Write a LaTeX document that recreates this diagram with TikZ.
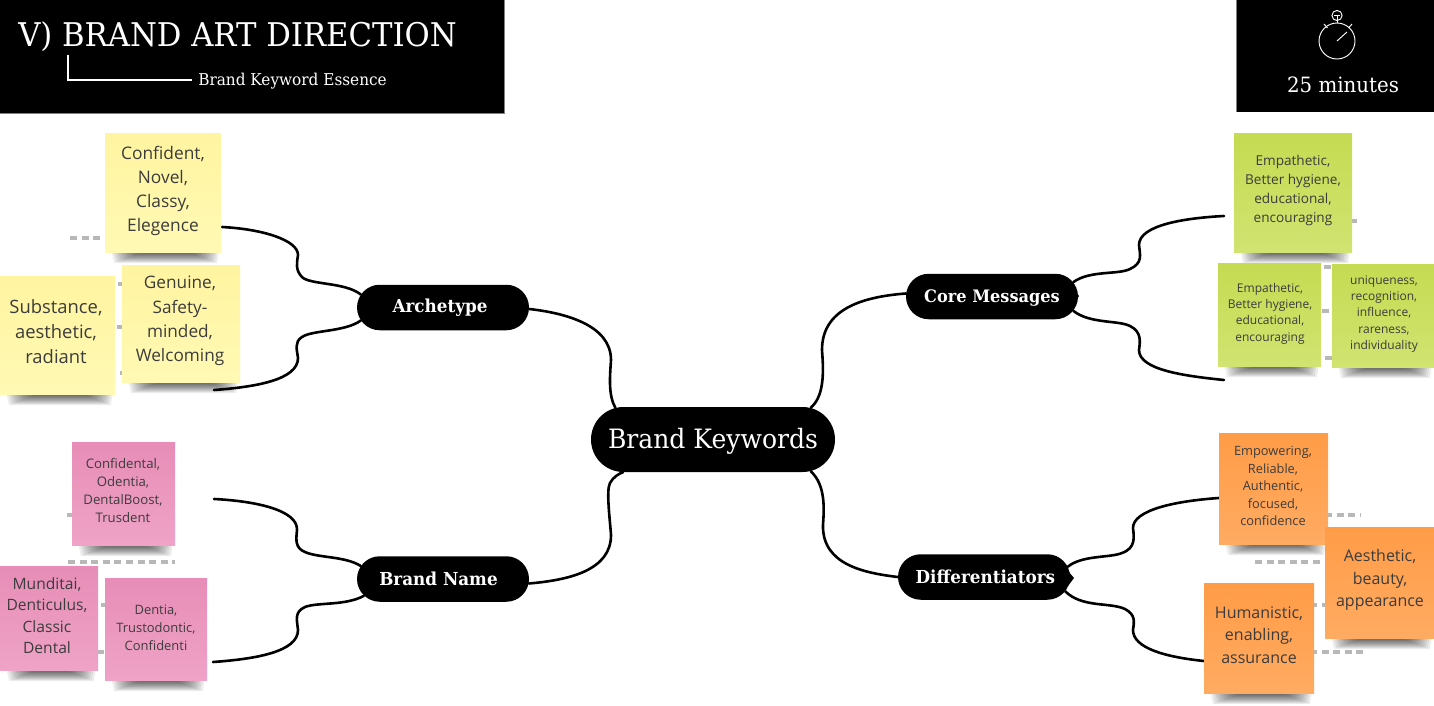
\documentclass[tikz,border=0pt]{standalone}
\usepackage{fontspec}
\usetikzlibrary{shapes.misc,backgrounds}
\setmainfont{DejaVu Serif}
\newfontfamily\hdfont[FakeStretch=0.94]{DejaVu Serif}
\newfontfamily\opensans{Open Sans}
\definecolor{yelT}{HTML}{FFF4A0}\definecolor{yelB}{HTML}{FFF9B4}
\definecolor{pnkT}{HTML}{E78DB7}\definecolor{pnkB}{HTML}{EFA3C6}
\definecolor{grnT}{HTML}{C5DB52}\definecolor{grnB}{HTML}{D1E371}
\definecolor{orgT}{HTML}{FF9C47}\definecolor{orgB}{HTML}{FFAB62}
\definecolor{notetext}{HTML}{3C3C3C}
\definecolor{dashgray}{HTML}{B8B8B8}
\tikzset{
  x=0.75pt,y=-0.75pt,
  hub/.style={rounded rectangle,fill=black,text=white,inner sep=0pt,
    minimum width=172*0.75pt,minimum height=45.5*0.75pt,
    font=\hdfont\bfseries\fontsize{13.4}{16}\selectfont},
  note/.style 2 args={align=center,inner sep=0pt,text=notetext,
    font=\opensans\fontsize{#1}{#2}\selectfont},
  wire/.style={line width=1.95pt,black,line cap=round},
  dots/.style={line width=3.4pt,dashgray,dash pattern=on 5.2pt off 3.5pt},
  white label/.style={text=white,inner sep=0pt}
}
\newcommand{\stick}[5]{%
  \foreach \i in {0,...,11}{%
    \fill[black,opacity=.07]
      ({#1+6+2*\i},{#4-3}) -- ({#3-2-2*\i},{#4-3})
      -- ({#3-4-2.4*\i},{#4+11-0.9*\i}) -- ({#1+9+2.4*\i},{#4+11-0.9*\i}) -- cycle;}
  \shade[top color=#5T,bottom color=#5B] (#1,#2) rectangle (#3,#4);}
\begin{document}
\begin{tikzpicture}
\useasboundingbox (0,0) rectangle (1434,706);

% header panels
\fill[black] (0,0) rectangle (504,113);
\draw[gray,line width=0.6pt] (504.5,0) -- (504.5,113.5) -- (0,113.5);
\fill[black] (1237,0) rectangle (1434,112);
\draw[gray,line width=0.6pt] (1236.5,0) -- (1236.5,112);
\node[white label,anchor=base west,font=\hdfont\fontsize{24.5}{28}\selectfont] (title) at (18,46.5) {V) BRAND ART DIRECTION};
\node[white label,anchor=base west,font=\hdfont\fontsize{12.2}{15}\selectfont] (sub) at (198,85.5) {Brand Keyword Essence};
\coordinate (brk) at (68,55);
\coordinate (brkend) at (192,80);
\draw[white,line width=1.5pt] (brk) |- (brkend);
\node[white label,anchor=base,font=\hdfont\fontsize{15.8}{20}\selectfont] (mins) at (1343,93) {25 minutes};
% stopwatch
\begin{scope}[white,line width=0.7pt]
  \draw (1337,41) circle[radius=13.5pt];
  \draw (1337,15.5) circle[radius=3.8pt];
  \draw (1334,15) -- (1340,15) (1337,15) -- (1337,23);
  \draw (1324,24) -- (1327.5,28) (1352,24) -- (1348.5,28);
  \draw (1337,41) -- (1347,32);
\end{scope}

% hubs
\node[rounded rectangle,fill=black,text=white,inner sep=0pt,minimum width=244*0.75pt,minimum height=65*0.75pt,
  font=\hdfont\fontsize{20}{24}\selectfont] (kw) at (713,439.5) {\rule{0pt}{18.2pt}Brand Keywords};
\node[hub] (arch) at (443,307.5) {\hspace*{-4.5pt}Archetype};
\node[hub] (bn) at (443,579) {\hspace*{-6.75pt}Brand Name};
\node[hub] (core) at (992,296.5) {\rule{0pt}{12pt}\fontsize{12.9}{16}\selectfont Core Messages};
\node[hub] (diff) at (984,577) {\hspace*{2pt}Differentiators};
\fill[black] (1068,571) -- (1074,578) -- (1068,586) -- cycle;
\fill[black] (1075,291) -- (1079,296) -- (1075,302) -- cycle;

% free ends of branches
\coordinate (a1) at (222,227);
\coordinate (a2) at (214,390);
\coordinate (b1) at (214,499);
\coordinate (b2) at (213,662);
\coordinate (c1) at (1224,216);
\coordinate (c2) at (1224,380);
\coordinate (d1) at (1219,498);
\coordinate (d2) at (1204,661);

\begin{pgfonlayer}{background}
\draw[wire] (arch.-1) .. controls (565,313) and (611,325) .. (611,360) .. controls (610,375) and (608,395) .. (kw.162);
\draw[wire] (bn.-3) .. controls (570,580) and (611,570) .. (611,535) .. controls (610,520) and (606,490) .. (610,483) .. controls (613,477) and (620,473) .. (kw.200);
\draw[wire] (core.178) .. controls (860,297) and (822,310) .. (822,350) .. controls (823,365) and (826,395) .. (kw.18);
\draw[wire] (diff.180) .. controls (865,573) and (822,565) .. (823,525) .. controls (824,510) and (826,485) .. (kw.-18);
\draw[wire] (a1) .. controls (262,229) and (298,240) .. (298,255) .. controls (297,262) and (295,270) .. (302,277) .. controls (310,285) and (345,282) .. (arch.171);
\draw[wire] (a2) .. controls (255,387) and (298,380) .. (298,358) .. controls (297,350) and (294,342) .. (302,337) .. controls (312,330) and (345,332) .. (arch.189);
\draw[wire] (b1) .. controls (255,501) and (298,510) .. (297,530) .. controls (296,540) and (295,548) .. (305,552) .. controls (318,558) and (345,556) .. (bn.171);
\draw[wire] (b2) .. controls (255,659) and (298,652) .. (298,630) .. controls (297,620) and (294,612) .. (305,607) .. controls (318,602) and (345,606) .. (bn.192);
\draw[wire] (c1) .. controls (1185,218) and (1139,225) .. (1139,245) .. controls (1140,255) and (1143,263) .. (1130,269) .. controls (1118,275) and (1090,270) .. (core.10);
\draw[wire] (c2) .. controls (1185,376) and (1139,370) .. (1139,350) .. controls (1140,342) and (1142,332) .. (1130,326) .. controls (1118,320) and (1090,324) .. (core.-10);
\draw[wire] (d1) .. controls (1175,501) and (1133,510) .. (1133,528) .. controls (1134,537) and (1136,548) .. (1122,553) .. controls (1110,558) and (1082,555) .. (diff.7);
\draw[wire] (d2) .. controls (1165,657) and (1133,648) .. (1133,630) .. controls (1134,622) and (1136,615) .. (1125,609) .. controls (1110,602) and (1082,608) .. (diff.-10);
\end{pgfonlayer}

% grey dotted remnants behind the notes
\draw[dots] (70,238) -- (112,238);
\draw[dots] (118,284) -- (126,284);
\draw[dots] (117,327) -- (126,327);
\draw[dots] (120,373) -- (126,373);
\draw[dots] (67,515) -- (76,515);
\draw[dots] (68,562) -- (175,562);
\draw[dots] (101,605) -- (108,605);
\draw[dots] (97,652) -- (108,652);
\draw[dots] (1350,221) -- (1360,221);
\draw[dots] (1324,267) -- (1331,267);
\draw[dots] (1322,311) -- (1329,311);
\draw[dots] (1325,358) -- (1332,358);
\draw[dots] (1325,515) -- (1360,515);
\draw[dots] (1255,562) -- (1328,562);
\draw[dots] (1310,605) -- (1328,605);
\draw[dots] (1310,652) -- (1363,652);

% sticky notes
\stick{105}{134}{221}{252}{yel}
\node[note={13}{18.2}] (y1) at (163,191) {Confident,\\Novel,\\Classy,\\Elegence};
\stick{0}{276}{115}{394}{yel}
\node[note={13.8}{18.9}] (y3) at (56,331.5) {Substance,\\aesthetic,\\radiant};
\stick{122}{265}{240}{382}{yel}
\node[note={12.9}{18.2}] (y2) at (180,321) {Genuine,\\Safety-\\minded,\\Welcoming};

\stick{72}{442}{175}{545}{pnk}
\node[note={9.9}{13.5}] (p1) at (123,491) {Confidental,\\Odentia,\\DentalBoost,\\Trusdent};
\stick{0}{566}{98}{670}{pnk}
\node[note={11.7}{16}] (p2) at (47,615.5) {Munditai,\\Denticulus,\\Classic\\Dental};
\stick{105}{578}{207}{680}{pnk}
\node[note={9.7}{13.4}] (p3) at (156,627.5) {Dentia,\\Trustodontic,\\Confidenti};

\stick{1234}{134}{1352}{252}{grn}
\node[note={10.2}{14.1}] (g1) at (1293,190.5) {Empathetic,\\Better hygiene,\\educational,\\encouraging};
\stick{1218}{263}{1321}{366}{grn}
\node[note={9}{12.3}] (g2) at (1270,313.5) {Empathetic,\\Better hygiene,\\educational,\\encouraging};
\stick{1332}{264}{1434}{367}{grn}
\node[note={9}{12.2}] (g3) at (1384,314) {uniqueness,\\recognition,\\influence,\\rareness,\\individuality};

\stick{1219}{433}{1328}{544}{org}
\node[note={9.6}{13.1}] (o1) at (1273,486) {Empowering,\\Reliable,\\Authentic,\\focused,\\confidence};
\stick{1325}{527}{1434}{638}{org}
\node[note={12}{16.9}] (o2) at (1380,580) {Aesthetic,\\beauty,\\appearance};
\stick{1204}{583}{1314}{693}{org}
\node[note={12}{16.9}] (o3) at (1259,635) {Humanistic,\\enabling,\\assurance};
\end{tikzpicture}
\end{document}
